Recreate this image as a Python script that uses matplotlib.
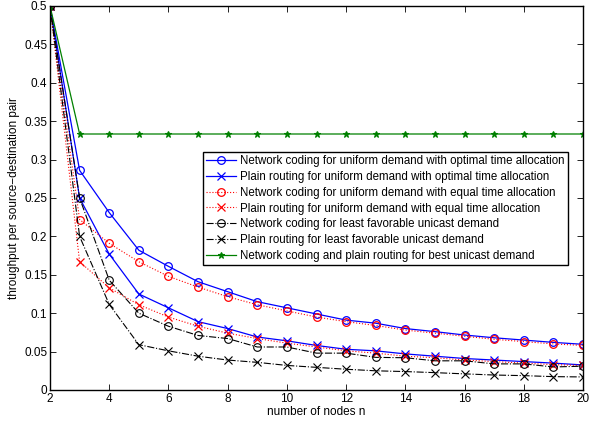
import matplotlib
matplotlib.use("Agg")
import matplotlib.pyplot as plt
from matplotlib.ticker import FuncFormatter

n = list(range(2, 21))

nc_opt = [0.5, 0.286, 0.231, 0.182, 0.161, 0.141, 0.128, 0.115, 0.107, 0.099, 0.091,
          0.087, 0.080, 0.076, 0.0716, 0.068, 0.065, 0.062, 0.0595]
pr_opt = [0.5, 0.25, 0.177, 0.125, 0.107, 0.089, 0.080, 0.069, 0.064, 0.058, 0.053,
          0.051, 0.047, 0.044, 0.041, 0.039, 0.037, 0.035, 0.0326]
nc_eq = [0.5, 0.222, 0.191, 0.167, 0.148, 0.134, 0.1215, 0.111, 0.103, 0.095, 0.089,
         0.084, 0.078, 0.074, 0.070, 0.066, 0.063, 0.060, 0.058]
pr_eq = [0.5, 0.167, 0.133, 0.111, 0.095, 0.083, 0.074, 0.067, 0.061, 0.056, 0.051,
         0.048, 0.044, 0.042, 0.039, 0.037, 0.035, 0.033, 0.032]
nc_least = [0.5, 0.25, 0.143, 0.100, 0.083, 0.071, 0.067, 0.056, 0.056, 0.048, 0.048,
            0.0425, 0.042, 0.038, 0.038, 0.034, 0.034, 0.030, 0.031]
pr_least = [0.5, 0.20, 0.1115, 0.059, 0.051, 0.044, 0.039, 0.036, 0.032, 0.0295, 0.027,
            0.025, 0.024, 0.0226, 0.021, 0.0195, 0.0187, 0.0174, 0.017]
best = [0.5] + [1/3] * 18

labels = [
    "Network coding for uniform demand with optimal time allocation",
    "Plain routing for uniform demand with optimal time allocation",
    "Network coding for uniform demand with equal time allocation",
    "Plain routing for uniform demand with equal time allocation",
    "Network coding for least favorable unicast demand",
    "Plain routing for least favorable unicast demand",
    "Network coding and plain routing for best unicast demand",
]

plt.rcParams['font.family'] = ['Liberation Sans', 'DejaVu Sans']

fig = plt.figure(figsize=(5.97, 4.25), dpi=100)
ax = fig.add_axes([50/597, 1-390/425, 533/597, 384/425])

blue = (0, 0, 1)
red = (1, 0, 0)
green = (0, 0.5, 0)

ax.plot(n, nc_opt, '-', color=blue, lw=0.9, marker='o', ms=5.5, mfc='none', mew=0.9, label=labels[0])
ax.plot(n, pr_opt, '-', color=blue, lw=0.9, marker='x', ms=5.5, mew=0.9, label=labels[1])
ax.plot(n, nc_eq, ':', color=red, lw=0.8, marker='o', ms=5.5, mfc='none', mew=0.9, label=labels[2])
ax.plot(n, pr_eq, ':', color=red, lw=0.8, marker='x', ms=5.5, mew=0.9, label=labels[3])
ax.plot(n, nc_least, '-.', color='k', lw=0.8, marker='o', ms=5.5, mfc='none', mew=0.8, label=labels[4])
ax.plot(n, pr_least, '-.', color='k', lw=0.8, marker='x', ms=5.5, mew=0.8, label=labels[5])
ax.plot(n, best, '-', color=green, lw=0.9, marker='*', ms=4.5, mew=0.8, label=labels[6])

ax.set_xlim(2, 20)
ax.set_ylim(0, 0.5)
ax.set_xticks(range(2, 21, 2))
ax.set_yticks([i * 0.05 for i in range(11)])
ax.yaxis.set_major_formatter(FuncFormatter(lambda v, p: ('%g' % round(v, 2))))
ax.tick_params(direction='in', top=True, right=True, labelsize=8.5, length=4, width=0.6, pad=2)
for s in ax.spines.values():
    s.set_linewidth(1.0)

ax.set_xlabel("number of nodes n", fontsize=8.5, labelpad=1)
ax.set_ylabel("throughput per source\u2212destination pair", fontsize=8.5, labelpad=3)

leg = ax.legend(loc='upper left', bbox_to_anchor=(203/597, 1-152/425), bbox_transform=fig.transFigure,
                fontsize=8.3, frameon=True, fancybox=False, edgecolor='k', framealpha=1,
                borderpad=0.3, labelspacing=0.32, handlelength=2.6, handletextpad=0.3, borderaxespad=0)
leg.get_frame().set_linewidth(1.0)

fig.savefig("out.png", dpi=100)
